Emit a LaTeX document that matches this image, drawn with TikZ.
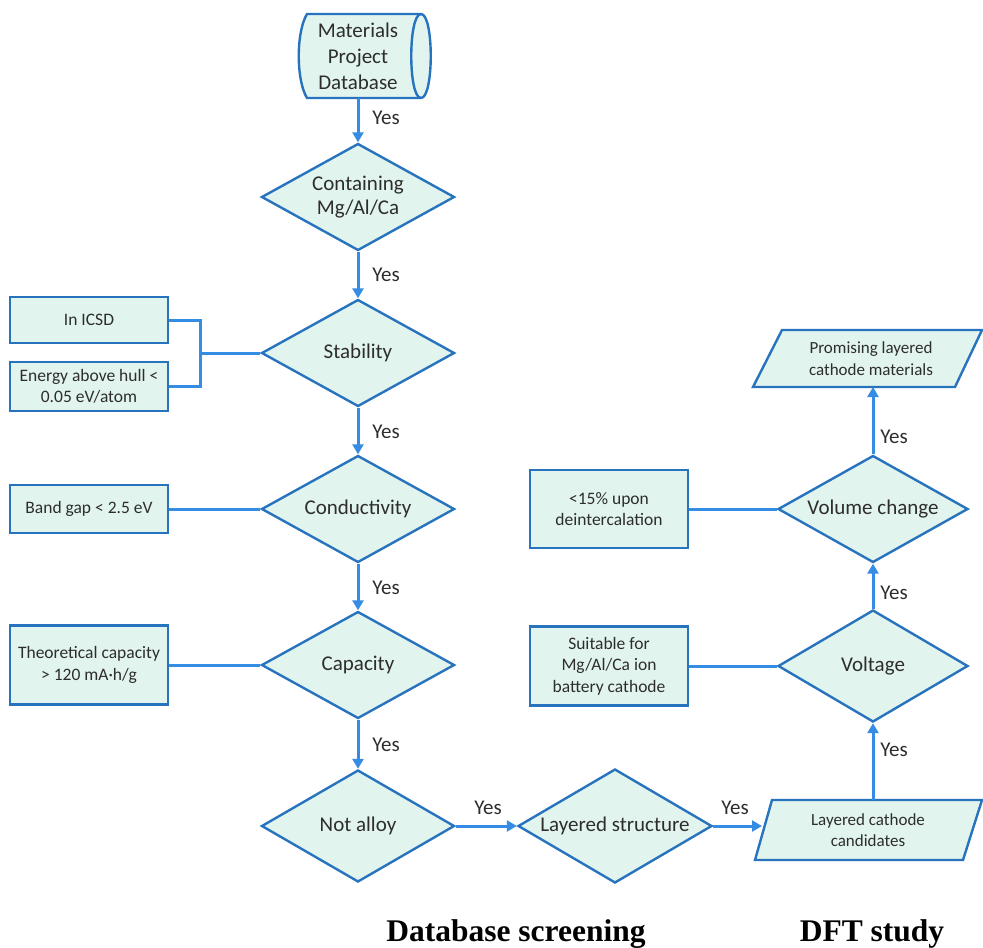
\documentclass[tikz,border=0pt]{standalone}
\usepackage{fontspec}
\setmainfont{Carlito}
\newfontfamily\titlefont{Liberation Serif}
\usetikzlibrary{shapes.geometric,arrows.meta}
\definecolor{fillc}{RGB}{226,244,238}
\definecolor{edgec}{RGB}{40,115,190}
\definecolor{linec}{RGB}{52,140,228}
\definecolor{txt}{RGB}{45,45,45}
\begin{document}
\begin{tikzpicture}[x=1pt,y=-1pt,
  dia/.style={diamond, draw=edgec, fill=fillc, line width=2.4pt, aspect=1.8, inner sep=0pt,
    minimum width=193pt, minimum height=107pt, align=center,
    font=\fontsize{21}{24}\selectfont, text=txt},
  boxc/.style={draw=edgec, fill=fillc, line width=2.4pt, minimum width=158pt, align=center,
    inner sep=0pt, font=\fontsize{17.5}{21.5}\selectfont, text=txt},
  plain/.style={align=center, inner sep=0pt, font=\fontsize{17.5}{21.5}\selectfont, text=txt},
  shp/.style={draw=edgec, fill=fillc, line width=2.4pt, line join=miter},
  arr/.style={draw=linec, line width=3pt, -{Triangle[length=10pt,width=11pt]}},
  lnk/.style={draw=linec, line width=3pt},
  yes/.style={font=\fontsize{21}{22}\selectfont, text=txt, anchor=center, inner sep=0pt},
  ttl/.style={font=\titlefont\bfseries\fontsize{31.5}{34}\selectfont, text=black, anchor=base, inner sep=0pt}]
\useasboundingbox (0,0) rectangle (983,948);

% database shape
\draw[shp] (307,14) -- (421,14) .. controls (434,14) and (434,98) .. (421,98) -- (307,98)
  .. controls (296,80) and (296,32) .. (307,14) -- cycle;
\draw[shp, fill=none] (421,14) .. controls (408,14) and (408,98) .. (421,98);
\node[plain, font=\fontsize{21}{26}\selectfont, minimum height=84pt] (db) at (358,56) {Materials\\Project\\Database};

% left diamonds
\node[dia] (cont) at (358,197) {Containing\\Mg/Al/Ca};
\node[dia] (stab) at (358,353) {Stability};
\node[dia] (cond) at (358,509) {Conductivity};
\node[dia] (cap)  at (358,665) {Capacity};
\node[dia, minimum height=112pt] (alloy) at (358,826) {Not alloy};
\node[dia, minimum width=194pt, minimum height=114pt] (layer) at (615,826) {Layered structure};

% right diamonds
\node[dia, minimum width=190pt] (vol) at (873,509) {Volume change};
\node[dia, minimum width=190pt, minimum height=112pt] (volt) at (873,666) {Voltage};

% parallelograms
\draw[shp] (772,800) -- (982,800) -- (963,860) -- (755,860) -- cycle;
\node[plain, minimum height=60pt, font=\fontsize{17}{21.5}\selectfont] (cand) at (868,830) {Layered cathode\\candidates};
\draw[shp] (782,330) -- (982,330) -- (955,387) -- (753,387) -- cycle;
\node[plain, minimum height=57pt, font=\fontsize{17}{21.5}\selectfont] (prom) at (871,358.5) {Promising layered\\cathode materials};

% left boxes
\node[boxc, minimum height=46pt] (icsd) at (89,320) {In ICSD};
\node[boxc, minimum height=49pt] (ehull) at (89,386.5) {Energy above hull <\\0.05 eV/atom};
\node[boxc, minimum height=48pt] (gap) at (89,509) {Band gap < 2.5 eV};
\node[boxc, minimum height=79pt] (theo) at (89,665) {Theoretical capacity\\> 120 mA·h/g};

% right boxes
\node[boxc, minimum height=78pt] (dein) at (609,509) {<15\% upon\\deintercalation};
\node[boxc, minimum height=79pt] (suit) at (609,666) {Suitable for\\Mg/Al/Ca ion\\battery cathode};

% bracket
\coordinate (bx) at (200,353);
\draw[lnk, line join=miter] (icsd.east) -| (bx) |- (ehull.east);
\draw[lnk] (bx) -- (stab.west);
\draw[lnk] (gap.east) -- (cond.west);
\draw[lnk] (theo.east) -- (cap.west);
\draw[lnk] (dein.east) -- (vol.west);
\draw[lnk] (suit.east) -- (volt.west);

% arrows
\draw[arr] (db.south) -- (cont.north);
\draw[arr] (cont.south) -- (stab.north);
\draw[arr] (stab.south) -- (cond.north);
\draw[arr] (cond.south) -- (cap.north);
\draw[arr] (cap.south) -- (alloy.north);
\draw[arr] (alloy.east) -- (layer.west);
\coordinate (candw) at (762,826);
\draw[arr] (layer.east) -- (candw);
\coordinate (candn) at (873,800);
\draw[arr] (candn) -- (volt.south);
\draw[arr] (volt.north) -- (vol.south);
\coordinate (proms) at (873,387);
\draw[arr] (vol.north) -- (proms);

% yes labels
\node[yes] (y1) at (386,118) {Yes};
\node[yes] (y2) at (386,275) {Yes};
\node[yes] (y3) at (386,432) {Yes};
\node[yes] (y4) at (386,588) {Yes};
\node[yes] (y5) at (386,745) {Yes};
\node[yes] (y6) at (488,808) {Yes};
\node[yes] (y7) at (735,808) {Yes};
\node[yes] (y8) at (894,750) {Yes};
\node[yes] (y9) at (894,593) {Yes};
\node[yes] (y10) at (894,437) {Yes};

% titles
\node[ttl] (t1) at (516,941) {Database screening};
\node[ttl] (t2) at (872,941) {DFT study};
\end{tikzpicture}
\end{document}
